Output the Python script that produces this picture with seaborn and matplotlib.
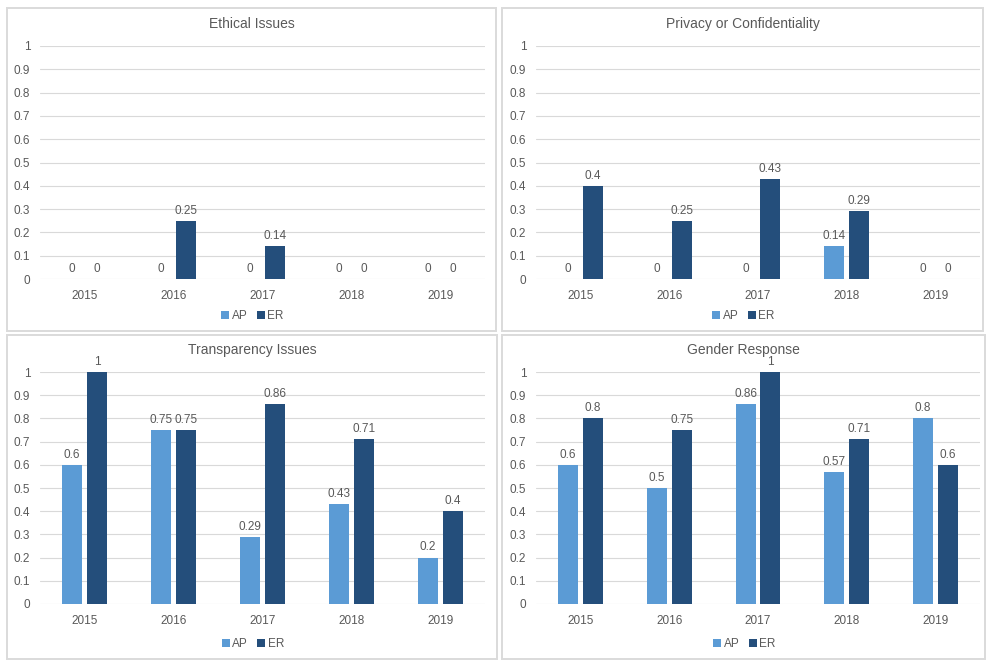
import matplotlib
matplotlib.use("Agg")
import matplotlib.pyplot as plt
from matplotlib.patches import Rectangle
from matplotlib.lines import Line2D
import pandas as pd
import seaborn as sns

# ---- data ----
years = ["2015", "2016", "2017", "2018", "2019"]
series = ["AP", "ER"]

ethical_ap = [0, 0, 0, 0, 0]
ethical_er = [0, 0.25, 0.14, 0, 0]

privacy_ap = [0, 0, 0, 0.14, 0]
privacy_er = [0.4, 0.25, 0.43, 0.29, 0]

transparency_ap = [0.6, 0.75, 0.29, 0.43, 0.2]
transparency_er = [1, 0.75, 0.86, 0.71, 0.4]

gender_ap = [0.6, 0.5, 0.86, 0.57, 0.8]
gender_er = [0.8, 0.75, 1, 0.71, 0.6]

titles = ["Ethical Issues", "Privacy or Confidentiality",
          "Transparency Issues", "Gender Response"]
y_ticks = [0, 0.1, 0.2, 0.3, 0.4, 0.5, 0.6, 0.7, 0.8, 0.9, 1]
y_tick_labels = ["0", "0.1", "0.2", "0.3", "0.4", "0.5", "0.6", "0.7", "0.8", "0.9", "1"]

# ---- style ----
sns.set_theme(style="white")
plt.rcParams["font.family"] = ["Liberation Sans", "DejaVu Sans"]

AP_COLOR = "#5B9BD5"
ER_COLOR = "#244E7B"
TEXT = "#595959"
GRID = "#D9D9D9"
palette = {"AP": AP_COLOR, "ER": ER_COLOR}

W, H = 988, 661
fig = plt.figure(figsize=(W / 100, H / 100), dpi=100)
fig.patch.set_facecolor("white")


def fx(px):
    return px / W


def fy(py):
    return 1 - py / H


# panel frames (x0, y0, x1, y1 in pixels, y downward)
frames = [(7, 8, 496, 331), (502, 8, 983, 331),
          (7, 335, 497, 659), (502, 335, 985, 659)]
# plot areas (x0, x1, y_top, y_bottom)
areas = [(40, 485, 46, 279), (536, 980, 46, 279),
         (40, 485, 372, 604), (536, 980, 372, 604)]

data_pairs = [(ethical_ap, ethical_er), (privacy_ap, privacy_er),
              (transparency_ap, transparency_er), (gender_ap, gender_er)]

for (fx0, fy0, fx1, fy1), (ax0, ax1, aytop, aybot), title, (ap, er) in zip(
        frames, areas, titles, data_pairs):
    fig.patches.append(Rectangle((fx(fx0), fy(fy1)), fx(fx1 - fx0), (fy1 - fy0) / H,
                                 transform=fig.transFigure, facecolor="none",
                                 edgecolor="#DADADA", linewidth=1.4, zorder=0))

    ax = fig.add_axes([fx(ax0), fy(aybot), fx(ax1 - ax0), (aybot - aytop) / H])
    ax.set_facecolor("none")
    ax.set_zorder(2)

    df = pd.DataFrame({
        "year": years * 2,
        "value": ap + er,
        "series": ["AP"] * len(years) + ["ER"] * len(years),
    })
    sns.barplot(data=df, x="year", y="value", hue="series", hue_order=series,
                palette=palette, width=0.562, gap=0.2, linewidth=0,
                saturation=1, legend=False, ax=ax, zorder=3)

    for cont in ax.containers:
        ax.bar_label(cont, labels=[f"{b.get_height():g}" for b in cont],
                     padding=3, fontsize=8.5, color=TEXT, clip_on=False)

    ax.set_ylim(0, 1)
    ax.set_xlim(-0.5, len(years) - 0.5)
    ax.set_yticks(y_ticks)
    ax.set_yticklabels(y_tick_labels)
    ax.yaxis.grid(True, color=GRID, linewidth=0.8, zorder=0)
    ax.set_axisbelow(True)
    for s in ax.spines.values():
        s.set_visible(False)
    ax.tick_params(axis="both", length=0, labelsize=8.5, labelcolor=TEXT)
    ax.tick_params(axis="y", pad=7)
    ax.tick_params(axis="x", pad=8)
    ax.set_xlabel("")
    ax.set_ylabel("")

    cx = (fx0 + fx1) / 2
    fig.text(fx(cx), fy(aytop - 22), title, ha="center", va="center",
             fontsize=10, color=TEXT)

    handles = [Line2D([], [], marker="s", linestyle="none", markersize=5.5,
                      markerfacecolor=palette[s], markeredgewidth=0, label=s)
               for s in series]
    fig.legend(handles=handles, loc="center", ncol=2, frameon=False,
               bbox_to_anchor=(fx(cx), fy(fy1 - 15)), fontsize=8.5,
               labelcolor=TEXT, handletextpad=0.05, columnspacing=0.6,
               handlelength=1.0)

fig.savefig("out.png", dpi=100, facecolor="white")
